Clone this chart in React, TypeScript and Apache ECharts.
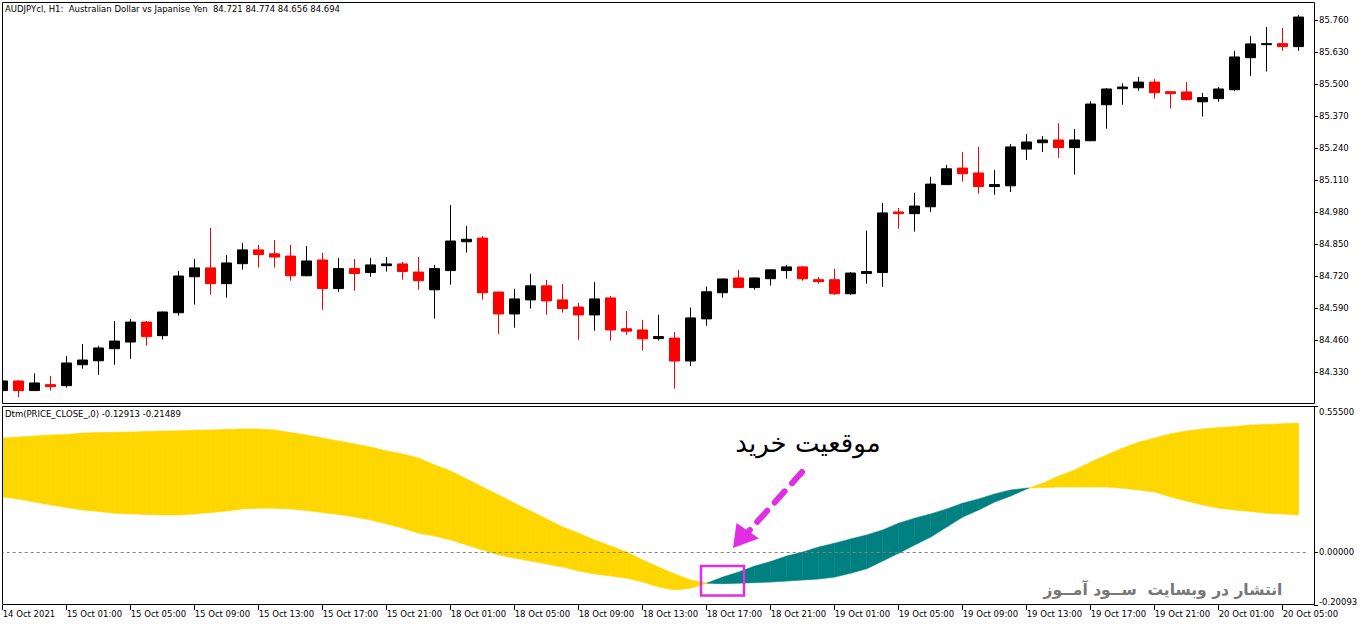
import React, { useEffect, useRef } from "react";
import * as echarts from "echarts";

const categories = [
  "14 Oct 21:00", "14 Oct 22:00", "14 Oct 23:00",
  "15 Oct 00:00", "15 Oct 01:00", "15 Oct 02:00", "15 Oct 03:00", "15 Oct 04:00", "15 Oct 05:00",
  "15 Oct 06:00", "15 Oct 07:00", "15 Oct 08:00", "15 Oct 09:00", "15 Oct 10:00", "15 Oct 11:00",
  "15 Oct 12:00", "15 Oct 13:00", "15 Oct 14:00", "15 Oct 15:00", "15 Oct 16:00", "15 Oct 17:00",
  "15 Oct 18:00", "15 Oct 19:00", "15 Oct 20:00", "15 Oct 21:00", "15 Oct 22:00", "15 Oct 23:00",
  "18 Oct 00:00", "18 Oct 01:00", "18 Oct 02:00", "18 Oct 03:00", "18 Oct 04:00", "18 Oct 05:00",
  "18 Oct 06:00", "18 Oct 07:00", "18 Oct 08:00", "18 Oct 09:00", "18 Oct 10:00", "18 Oct 11:00",
  "18 Oct 12:00", "18 Oct 13:00", "18 Oct 14:00", "18 Oct 15:00", "18 Oct 16:00", "18 Oct 17:00",
  "18 Oct 18:00", "18 Oct 19:00", "18 Oct 20:00", "18 Oct 21:00", "18 Oct 22:00", "18 Oct 23:00",
  "19 Oct 00:00", "19 Oct 01:00", "19 Oct 02:00", "19 Oct 03:00", "19 Oct 04:00", "19 Oct 05:00",
  "19 Oct 06:00", "19 Oct 07:00", "19 Oct 08:00", "19 Oct 09:00", "19 Oct 10:00", "19 Oct 11:00",
  "19 Oct 12:00", "19 Oct 13:00", "19 Oct 14:00", "19 Oct 15:00", "19 Oct 16:00", "19 Oct 17:00",
  "19 Oct 18:00", "19 Oct 19:00", "19 Oct 20:00", "19 Oct 21:00", "19 Oct 22:00", "19 Oct 23:00",
  "20 Oct 00:00", "20 Oct 01:00", "20 Oct 02:00", "20 Oct 03:00", "20 Oct 04:00", "20 Oct 05:00",
  "20 Oct 06:00",
];

const xTickLabels = [
  "14 Oct 2021", "15 Oct 01:00", "15 Oct 05:00", "15 Oct 09:00", "15 Oct 13:00", "15 Oct 17:00",
  "15 Oct 21:00", "18 Oct 01:00", "18 Oct 05:00", "18 Oct 09:00", "18 Oct 13:00", "18 Oct 17:00",
  "18 Oct 21:00", "19 Oct 01:00", "19 Oct 05:00", "19 Oct 09:00", "19 Oct 13:00", "19 Oct 17:00",
  "19 Oct 21:00", "20 Oct 01:00", "20 Oct 05:00",
];

// OHLC per bar
const opens = [
  84.256, 84.295, 84.256, 84.280, 84.276, 84.361, 84.377, 84.426, 84.453, 84.534,
  84.479, 84.572, 84.718, 84.754, 84.690, 84.771, 84.827, 84.811, 84.802, 84.722,
  84.786, 84.670, 84.751, 84.735, 84.763, 84.770, 84.737, 84.665, 84.743, 84.860,
  84.875, 84.656, 84.567, 84.624, 84.681, 84.624, 84.595, 84.563, 84.632, 84.507,
  84.502, 84.467, 84.469, 84.376, 84.547, 84.653, 84.713, 84.674, 84.710, 84.743,
  84.758, 84.706, 84.706, 84.649, 84.731, 84.735, 84.981, 84.974, 85.002, 85.092,
  85.159, 85.139, 85.084, 85.087, 85.236, 85.262, 85.273, 85.242, 85.270, 85.416,
  85.481, 85.485, 85.508, 85.469, 85.468, 85.428, 85.441, 85.477, 85.607, 85.660,
  85.664, 85.652,
];
const closes = [
  84.295, 84.256, 84.287, 84.272, 84.368, 84.380, 84.429, 84.457, 84.534, 84.475,
  84.575, 84.721, 84.754, 84.690, 84.774, 84.827, 84.808, 84.798, 84.722, 84.782,
  84.670, 84.751, 84.731, 84.766, 84.770, 84.739, 84.702, 84.751, 84.863, 84.870,
  84.653, 84.567, 84.628, 84.681, 84.620, 84.589, 84.563, 84.628, 84.502, 84.497,
  84.466, 84.475, 84.376, 84.551, 84.657, 84.709, 84.674, 84.713, 84.746, 84.758,
  84.710, 84.698, 84.649, 84.733, 84.739, 84.977, 84.974, 85.005, 85.094, 85.156,
  85.136, 85.084, 85.092, 85.245, 85.265, 85.273, 85.242, 85.273, 85.419, 85.480,
  85.488, 85.508, 85.465, 85.461, 85.437, 85.445, 85.480, 85.610, 85.663, 85.664,
  85.652, 85.772,
];
const lows = [
  84.252, 84.229, 84.254, 84.256, 84.268, 84.345, 84.320, 84.361, 84.385, 84.438,
  84.463, 84.560, 84.605, 84.645, 84.633, 84.747, 84.755, 84.755, 84.702, 84.720,
  84.584, 84.657, 84.661, 84.718, 84.739, 84.706, 84.665, 84.548, 84.686, 84.816,
  84.625, 84.486, 84.511, 84.589, 84.564, 84.572, 84.462, 84.499, 84.459, 84.482,
  84.418, 84.459, 84.264, 84.356, 84.519, 84.633, 84.673, 84.665, 84.682, 84.710,
  84.702, 84.690, 84.645, 84.645, 84.690, 84.677, 84.913, 84.901, 84.981, 85.091,
  85.104, 85.055, 85.051, 85.062, 85.192, 85.224, 85.201, 85.133, 85.268, 85.319,
  85.416, 85.473, 85.441, 85.401, 85.433, 85.368, 85.428, 85.473, 85.533, 85.551,
  85.635, 85.635,
];
const highs = [
  84.298, 84.297, 84.326, 84.315, 84.396, 84.445, 84.438, 84.538, 84.547, 84.538,
  84.577, 84.741, 84.790, 84.916, 84.806, 84.855, 84.847, 84.867, 84.847, 84.843,
  84.815, 84.794, 84.790, 84.794, 84.798, 84.778, 84.798, 84.766, 85.009, 84.924,
  84.883, 84.657, 84.669, 84.730, 84.705, 84.689, 84.612, 84.697, 84.640, 84.579,
  84.543, 84.564, 84.494, 84.593, 84.678, 84.710, 84.746, 84.714, 84.747, 84.766,
  84.762, 84.717, 84.750, 84.737, 84.905, 85.017, 84.997, 85.059, 85.124, 85.172,
  85.224, 85.246, 85.151, 85.257, 85.297, 85.289, 85.341, 85.318, 85.430, 85.484,
  85.503, 85.529, 85.521, 85.470, 85.508, 85.464, 85.488, 85.634, 85.695, 85.732,
  85.728, 85.780,
];

// Dtm indicator: two lines
const dtmFast = [
  0.433, 0.437, 0.441, 0.445, 0.447, 0.452, 0.454, 0.455, 0.456, 0.458,
  0.460, 0.461, 0.463, 0.464, 0.466, 0.468, 0.468, 0.464, 0.454, 0.445,
  0.433, 0.422, 0.411, 0.399, 0.384, 0.373, 0.357, 0.331, 0.308, 0.278,
  0.247, 0.217, 0.186, 0.156, 0.126, 0.095, 0.072, 0.046, 0.023, 0.000,
  -0.030, -0.057, -0.083, -0.106, -0.118, -0.120, -0.118, -0.116, -0.114, -0.110,
  -0.106, -0.102, -0.095, -0.080, -0.063, -0.034, -0.004, 0.027, 0.057, 0.095,
  0.133, 0.160, 0.190, 0.213, 0.240, 0.262, 0.289, 0.312, 0.342, 0.369,
  0.395, 0.418, 0.433, 0.450, 0.460, 0.468, 0.473, 0.477, 0.483, 0.485,
  0.488, 0.490,
];
const dtmSlow = [
  0.209, 0.202, 0.190, 0.179, 0.169, 0.160, 0.154, 0.148, 0.145, 0.143,
  0.141, 0.141, 0.145, 0.150, 0.156, 0.164, 0.167, 0.167, 0.164, 0.158,
  0.150, 0.143, 0.133, 0.122, 0.107, 0.091, 0.072, 0.061, 0.046, 0.027,
  0.008, -0.011, -0.023, -0.034, -0.045, -0.057, -0.072, -0.083, -0.091, -0.099,
  -0.114, -0.133, -0.144, -0.137, -0.118, -0.095, -0.076, -0.053, -0.036, -0.015,
  0.000, 0.019, 0.034, 0.050, 0.065, 0.084, 0.110, 0.129, 0.145, 0.164,
  0.186, 0.202, 0.221, 0.236, 0.243, 0.245, 0.247, 0.247, 0.247, 0.247,
  0.243, 0.236, 0.228, 0.209, 0.194, 0.179, 0.167, 0.160, 0.154, 0.148,
  0.145, 0.141,
];

const priceTicks = [84.33, 84.46, 84.59, 84.72, 84.85, 84.98, 85.11, 85.24, 85.37, 85.5, 85.63, 85.76];
const dtmTicks = [-0.20093, 0, 0.555];
const dtmTickLabels = ["-0.20093", "0.00000", "0.55500"];

const FONT = "DejaVu Sans";
const FS = 8.5;
const YELLOW = "#FFD700";
const TEAL = "#008080";
const MAGENTA = "#e22ee2";
// the chart div starts OX px left of the page so the first bar can be cut by the frame
const OX = 6;

export default function App() {
  const ref = useRef<HTMLDivElement>(null);

  useEffect(() => {
    const chart = echarts.init(ref.current!, null, { renderer: "svg" });

    const candleData = opens.map((o, i) => [o, closes[i], lows[i], highs[i]]);
    const segData: number[][] = [];
    for (let i = 0; i < dtmFast.length - 1; i++) {
      segData.push([i, dtmFast[i], dtmSlow[i], dtmFast[i + 1], dtmSlow[i + 1]]);
    }

    const poly = (pts: number[][], color: string) => ({
      type: "polygon",
      shape: { points: pts },
      style: { fill: color, stroke: color, lineWidth: 0.6 },
    });

    const labelStyle = { fontFamily: FONT, fontSize: FS, color: "#000" };

    const option: any = {
      animation: false,
      backgroundColor: "#fff",
      title: [
        {
          text: "AUDJPYcl, H1:  Australian Dollar vs Japanise Yen  84.721 84.774 84.656 84.694",
          left: 5 + OX,
          top: 4,
          padding: 0,
          textStyle: { fontFamily: FONT, fontSize: FS, fontWeight: "normal", color: "#000" },
        },
        {
          text: "Dtm(PRICE_CLOSE_,0) -0.12913 -0.21489",
          left: 5 + OX,
          top: 409,
          padding: 0,
          textStyle: { fontFamily: FONT, fontSize: FS, fontWeight: "normal", color: "#000" },
        },
      ],
      grid: [
        { left: OX - 5.3, width: 1312, top: 3, height: 400 },
        { left: OX - 5.3, width: 1312, top: 406, height: 199 },
      ],
      xAxis: [
        {
          type: "category",
          gridIndex: 0,
          data: categories,
          boundaryGap: true,
          show: false,
        },
        {
          type: "category",
          gridIndex: 1,
          position: "bottom",
          data: categories,
          boundaryGap: true,
          axisLine: { show: false, onZero: false },
          axisTick: {
            show: true,
            alignWithLabel: true,
            interval: (i: number) => i % 4 === 0,
            length: 5,
            lineStyle: { color: "#000", width: 1 },
          },
          axisLabel: {
            ...labelStyle,
            interval: (i: number) => i % 4 === 0,
            formatter: (_v: string, i: number) => xTickLabels[i / 4] ?? "",
            align: "left",
            margin: 4,
          },
          splitLine: { show: false },
        },
      ],
      yAxis: [
        {
          type: "value",
          gridIndex: 0,
          position: "right",
          offset: 7.3,
          min: 84.2056,
          max: 85.829,
          axisLine: { show: false },
          axisTick: {
            show: true,
            customValues: priceTicks,
            length: 4,
            lineStyle: { color: "#000", width: 1 },
          },
          axisLabel: {
            ...labelStyle,
            customValues: priceTicks,
            formatter: (v: number) => v.toFixed(3),
            margin: 5,
          },
          splitLine: { show: false },
        },
        {
          type: "value",
          gridIndex: 1,
          position: "right",
          offset: 7.3,
          min: -0.20093,
          max: 0.555,
          axisLine: { show: false },
          axisTick: {
            show: true,
            customValues: dtmTicks,
            length: 4,
            lineStyle: { color: "#000", width: 1 },
          },
          axisLabel: {
            ...labelStyle,
            customValues: dtmTicks,
            margin: 5,
            formatter: (v: number) => {
              const k = dtmTicks.findIndex((t) => Math.abs(t - v) < 1e-9);
              const s = k >= 0 ? dtmTickLabels[k] : v.toFixed(5);
              if (k === dtmTicks.length - 1) return "{t|" + s + "}";
              if (k === 0) return "{b|" + s + "}";
              return s;
            },
            rich: {
              t: { fontFamily: FONT, fontSize: FS, color: "#000", padding: [11, 0, 0, 0] },
              b: { fontFamily: FONT, fontSize: FS, color: "#000", padding: [0, 0, 7, 0] },
            },
          },
          splitLine: { show: false },
        },
      ],
      series: [
        {
          type: "candlestick",
          xAxisIndex: 0,
          yAxisIndex: 0,
          data: candleData,
          barWidth: 10,
          itemStyle: {
            color: "#000000",
            color0: "#ff0000",
            borderColor: "#000000",
            borderColor0: "#ff0000",
            borderWidth: 1,
          },
        },
        {
          type: "custom",
          xAxisIndex: 1,
          yAxisIndex: 1,
          data: segData,
          clip: true,
          renderItem: (_params: any, api: any) => {
            const i = api.value(0);
            const a1 = api.value(1);
            const b1 = api.value(2);
            const a2 = api.value(3);
            const b2 = api.value(4);
            const pa1 = api.coord([i, a1]);
            const pb1 = api.coord([i, b1]);
            const pa2 = api.coord([i + 1, a2]);
            const pb2 = api.coord([i + 1, b2]);
            const d1 = a1 - b1;
            const d2 = a2 - b2;
            const children: any[] = [];
            if (d1 * d2 >= 0) {
              children.push(poly([pa1, pa2, pb2, pb1], d1 + d2 >= 0 ? YELLOW : TEAL));
            } else {
              const t = d1 / (d1 - d2);
              const X = [pa1[0] + t * (pa2[0] - pa1[0]), pa1[1] + t * (pa2[1] - pa1[1])];
              children.push(poly([pa1, X, pb1], d1 > 0 ? YELLOW : TEAL));
              children.push(poly([X, pa2, pb2], d2 > 0 ? YELLOW : TEAL));
            }
            return { type: "group", children };
          },
          markLine: {
            silent: true,
            symbol: ["none", "none"],
            label: { show: false },
            lineStyle: { color: "#808080", type: [3, 3], width: 1 },
            data: [{ yAxis: 0 }],
          },
          z: 2,
        },
      ],
      graphic: [
        {
          type: "group",
          x: OX,
          y: 0,
          children: [
            { type: "rect", z: 90, shape: { x: -OX, y: 0, width: OX + 2, height: 628 }, style: { fill: "#fff" } },
            {
              type: "rect",
              z: 100,
              shape: { x: 2.5, y: 2.5, width: 1312, height: 401 },
              style: { fill: "none", stroke: "#000", lineWidth: 1 },
            },
            {
              type: "rect",
              z: 100,
              shape: { x: 2.5, y: 406.5, width: 1312, height: 198 },
              style: { fill: "none", stroke: "#000", lineWidth: 1 },
            },
            {
              type: "text",
              z: 100,
              x: 808,
              y: 443,
              style: {
                text: "موقعیت خرید",
                fontFamily: FONT,
                fontSize: 26,
                fill: "#000",
                align: "center",
                verticalAlign: "middle",
              },
            },
            {
              type: "text",
              z: 100,
              x: 1163,
              y: 590,
              style: {
                text: "انتشار در وبسایت  ســود آمــوز",
                fontFamily: FONT,
                fontSize: 15.5,
                fontWeight: "bold",
                fill: "#777777",
                align: "center",
                verticalAlign: "middle",
              },
            },
            {
              type: "rect",
              z: 100,
              shape: { x: 701, y: 566, width: 43, height: 29.5 },
              style: { fill: "none", stroke: MAGENTA, lineWidth: 2.5 },
            },
            {
              type: "line",
              z: 100,
              shape: { x1: 802, y1: 472, x2: 749, y2: 531 },
              style: { stroke: MAGENTA, lineWidth: 6, lineDash: [15, 11], lineCap: "round" },
            },
            {
              type: "polygon",
              z: 100,
              shape: { points: [[733, 548], [736.5, 523], [759, 538.5]] },
              style: { fill: MAGENTA },
            },
          ],
        },
      ],
    };

    chart.setOption(option);
    return () => chart.dispose();
  }, []);

  return (
    <div
      ref={ref}
      style={{ position: "fixed", left: -OX, top: 0, width: 1362 + OX, height: 628, background: "#fff" }}
    />
  );
}
